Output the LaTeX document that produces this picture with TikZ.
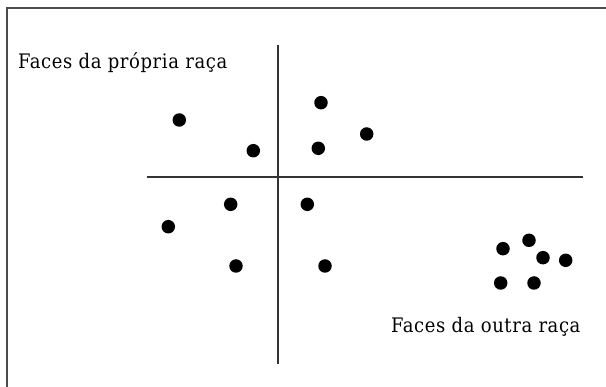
\documentclass[tikz,border=0pt]{standalone}
\usepackage{fontspec}
\setmainfont{DejaVu Serif Condensed}
\begin{document}
\begin{tikzpicture}[x=1pt,y=-1pt,
  dot/.style={circle,fill=black,inner sep=0pt,minimum size=13.5pt},
  frameline/.style={draw=black!70,line width=2pt},
  axisline/.style={draw=black!80,line width=2.2pt},
  lbl/.style={anchor=base west,inner sep=0pt,font=\fontsize{20}{20}\selectfont\addfontfeature{LetterSpace=3}}]
\useasboundingbox (0,0) rectangle (606,387);
% frame (top and left only)
\coordinate (fbl) at (7,387);
\coordinate (ftl) at (7,8.5);
\coordinate (ftr) at (606,8.5);
\draw[frameline] (fbl) -- (ftl) -- (ftr);
% axes
\coordinate (hl) at (147,177);
\coordinate (hr) at (583,177);
\coordinate (vt) at (278,45);
\coordinate (vb) at (278,364);
\draw[axisline] (hl) -- (hr);
\draw[axisline] (vt) -- (vb);
% labels
\node[lbl] (own) at (18,69) {Faces da própria raça};
\node[lbl] (other) at (391,333) {Faces da outra raça};
% dots
\node[dot] (d1) at (179.3,120) {};
\node[dot] (d2) at (253.3,150.7) {};
\node[dot] (d3) at (321,102.7) {};
\node[dot] (d4) at (366.7,134) {};
\node[dot] (d5) at (318.3,148.3) {};
\node[dot] (d6) at (230.7,204.3) {};
\node[dot] (d7) at (168.3,226.7) {};
\node[dot] (d8) at (307.3,204.3) {};
\node[dot] (d9) at (236,266) {};
\node[dot] (d10) at (325,266) {};
\node[dot] (e1) at (503,248.7) {};
\node[dot] (e2) at (529,240.3) {};
\node[dot] (e3) at (543,257.7) {};
\node[dot] (e4) at (565.7,260.3) {};
\node[dot] (e5) at (500.7,283) {};
\node[dot] (e6) at (534,283) {};
\end{tikzpicture}
\end{document}
